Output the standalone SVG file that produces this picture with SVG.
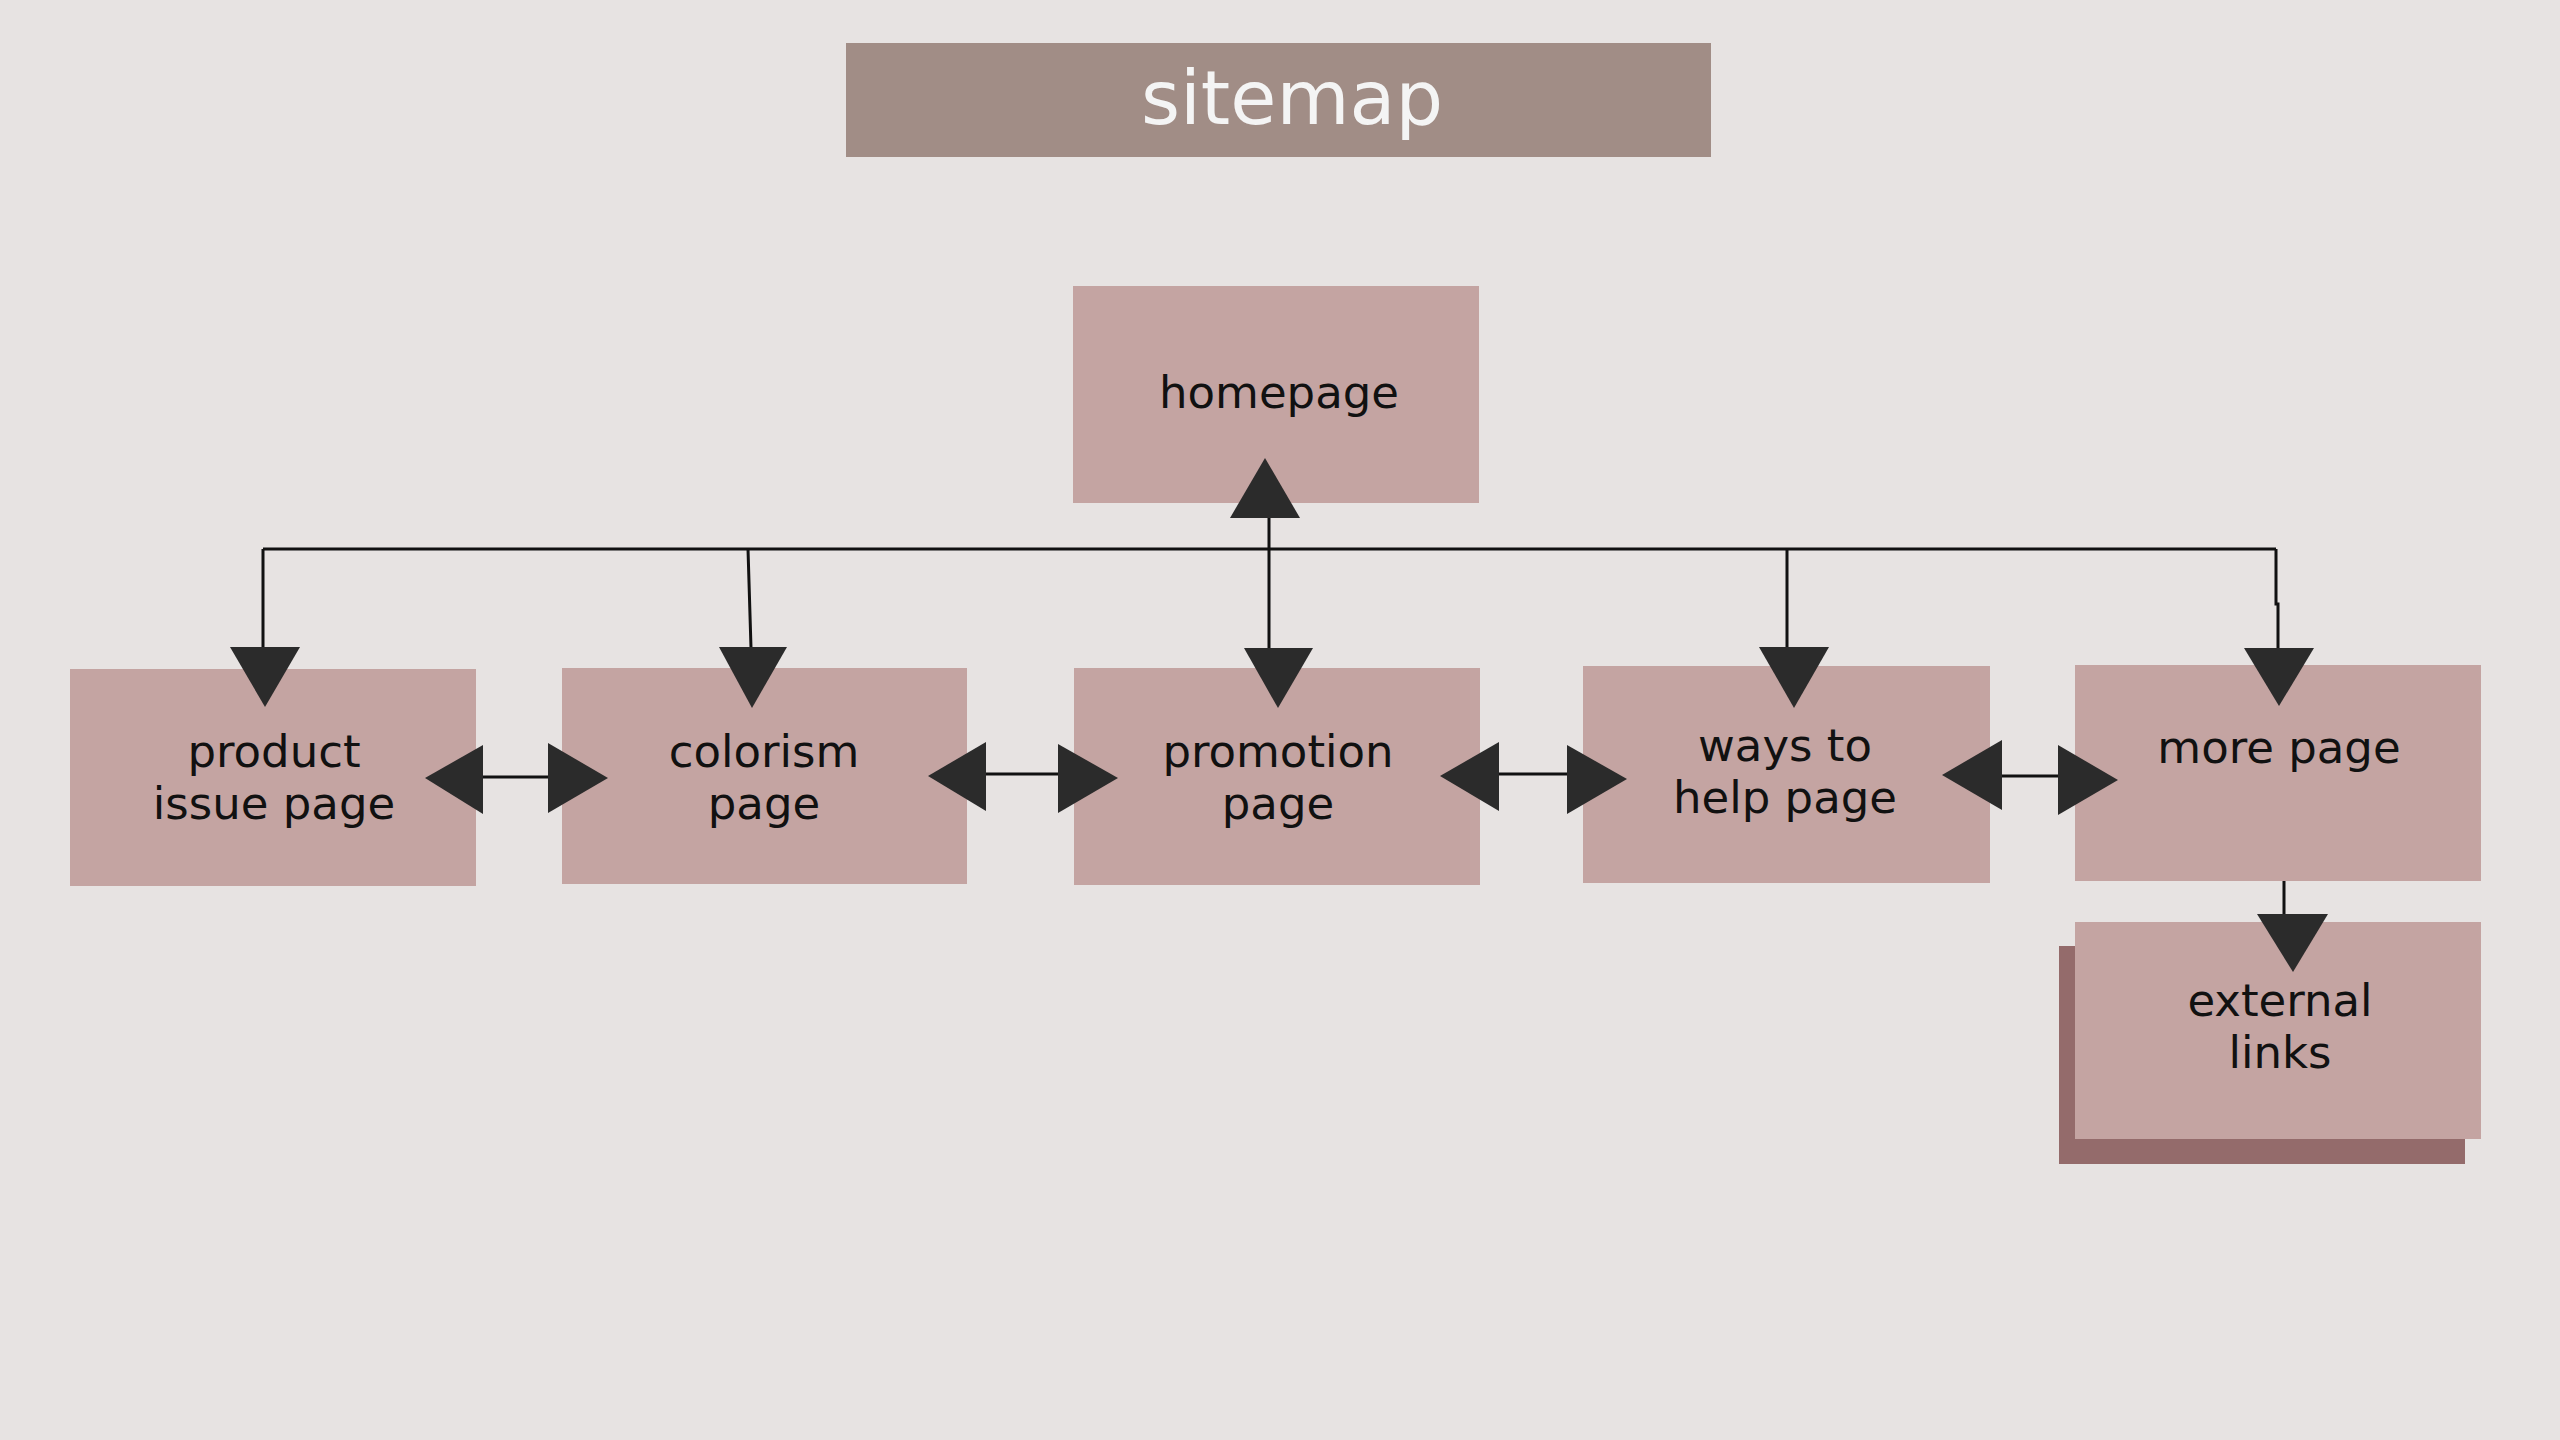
<svg xmlns="http://www.w3.org/2000/svg" width="2560" height="1440" viewBox="0 0 2560 1440">
<style>
.box{fill:#c4a4a2}
.lbl{font-family:"DejaVu Sans","Liberation Sans",sans-serif;font-size:45px;fill:#111;text-anchor:middle}
.ln{stroke:#111;stroke-width:3;fill:none}
.ah{fill:#2b2b2b}
</style>
<rect width="2560" height="1440" fill="#e7e3e2"/>
<g id="title">
<rect x="846" y="43" width="865" height="114" fill="#a18d86"/>
<text x="1292" y="124" font-family="DejaVu Sans, Liberation Sans, sans-serif" font-size="75" fill="#f4f4f4" text-anchor="middle">sitemap</text>
</g>
<g id="homepage">
<rect class="box" x="1073" y="286" width="406" height="217"/>
<text class="lbl" x="1279" y="408">homepage</text>
</g>
<g id="product">
<rect class="box" x="70" y="669" width="406" height="217"/>
<text class="lbl" x="274" y="767">product</text>
<text class="lbl" x="274" y="819">issue page</text>
</g>
<g id="colorism">
<rect class="box" x="562" y="668" width="405" height="216"/>
<text class="lbl" x="764" y="767">colorism</text>
<text class="lbl" x="764" y="819">page</text>
</g>
<g id="promotion">
<rect class="box" x="1074" y="668" width="406" height="217"/>
<text class="lbl" x="1278" y="767">promotion</text>
<text class="lbl" x="1278" y="819">page</text>
</g>
<g id="ways">
<rect class="box" x="1583" y="666" width="407" height="217"/>
<text class="lbl" x="1785" y="761">ways to</text>
<text class="lbl" x="1785" y="813">help page</text>
</g>
<g id="more">
<rect class="box" x="2075" y="665" width="406" height="216"/>
<text class="lbl" x="2279" y="763">more page</text>
</g>
<g id="external">
<rect x="2059" y="946" width="406" height="218" fill="#946b6b"/>
<rect class="box" x="2075" y="922" width="406" height="217"/>
<text class="lbl" x="2280" y="1016">external</text>
<text class="lbl" x="2280" y="1068">links</text>
</g>
<g id="connectors">
<path class="ln" d="M263 549 H2276 M263 549 V648 M748 549 L751 648 M1269 518 V648 M1787 549 V648 M2276 549 V604 H2278 V648 M2284 881 V915"/>
<path class="ln" d="M483 777 H548 M986 774 H1058 M1499 774 H1567 M2002 776 H2058"/>
<polygon class="ah" points="230,647 300,647 265,707"/>
<polygon class="ah" points="719,647 787,647 752,708"/>
<polygon class="ah" points="1244,648 1313,648 1278,708"/>
<polygon class="ah" points="1759,647 1829,647 1794,708"/>
<polygon class="ah" points="2244,648 2314,648 2279,706"/>
<polygon class="ah" points="2257,914 2328,914 2293,972"/>
<polygon class="ah" points="1230,518 1300,518 1265,458"/>
<polygon class="ah" points="483,745 483,814 425,778"/>
<polygon class="ah" points="548,743 548,813 608,778"/>
<polygon class="ah" points="986,742 986,811 928,776"/>
<polygon class="ah" points="1058,744 1058,813 1118,778"/>
<polygon class="ah" points="1499,742 1499,811 1440,776"/>
<polygon class="ah" points="1567,745 1567,814 1627,779"/>
<polygon class="ah" points="2002,740 2002,810 1942,775"/>
<polygon class="ah" points="2058,745 2058,815 2118,780"/>
</g>
</svg>
